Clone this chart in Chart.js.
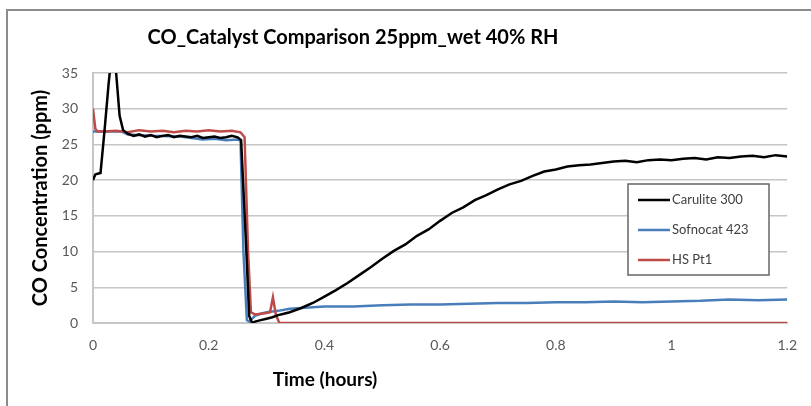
<!DOCTYPE html>
<html>
<head>
<meta charset="utf-8">
<script src="https://cdn.jsdelivr.net/npm/chart.js@4.4.1/dist/chart.umd.min.js"></script>
<style>
  html, body { margin: 0; padding: 0; background: #fff; }
  #wrap { width: 811px; height: 406px; position: relative; }
</style>
</head>
<body>
<div id="wrap"><canvas id="coChart" width="811" height="406"></canvas></div>
<script>
// Tiempo (horas) y concentracion CO (ppm)
const carTime = [0, 0.004, 0.008, 0.013, 0.02, 0.027, 0.034, 0.040, 0.046, 0.052, 0.06, 0.07, 0.08, 0.09, 0.10,
  0.11, 0.12, 0.13, 0.14, 0.15, 0.16, 0.17, 0.18, 0.19, 0.20, 0.21, 0.22, 0.23, 0.24, 0.25, 0.256, 0.264, 0.27, 0.275,
  0.28, 0.29, 0.30, 0.31, 0.32, 0.33, 0.34, 0.36, 0.38, 0.40, 0.42, 0.44, 0.46, 0.48, 0.50, 0.52, 0.54, 0.56, 0.58,
  0.60, 0.62, 0.64, 0.66, 0.68, 0.70, 0.72, 0.74, 0.76, 0.78, 0.80, 0.82, 0.84, 0.86, 0.88, 0.90, 0.92, 0.94, 0.96,
  0.98, 1.00, 1.02, 1.04, 1.06, 1.08, 1.10, 1.12, 1.14, 1.16, 1.18, 1.20];
const carValues = [20.0, 20.8, 20.9, 21.0, 27.0, 33.5, 39.0, 35.0, 29.0, 27.0, 26.5, 26.2, 26.4, 26.1, 26.3,
  26.0, 26.2, 26.3, 26.0, 26.2, 26.1, 26.0, 26.2, 25.9, 26.0, 26.1, 25.9, 26.0, 26.2, 26.0, 25.6, 12.0, 1.0, 0.0,
  0.2, 0.4, 0.6, 0.8, 1.1, 1.3, 1.5, 2.1, 2.8, 3.7, 4.6, 5.6, 6.7, 7.8, 9.0, 10.1, 11.0, 12.2, 13.1,
  14.3, 15.4, 16.2, 17.2, 17.9, 18.7, 19.4, 19.9, 20.6, 21.2, 21.5, 21.9, 22.1, 22.2, 22.4, 22.6, 22.7, 22.5, 22.8,
  22.9, 22.8, 23.0, 23.1, 22.9, 23.2, 23.1, 23.3, 23.4, 23.2, 23.5, 23.3];

const sofTime = [0, 0.05, 0.06, 0.10, 0.15, 0.19, 0.21, 0.23, 0.25, 0.255, 0.26, 0.266, 0.27, 0.28, 0.29, 0.30, 0.32,
  0.34, 0.36, 0.38, 0.40, 0.45, 0.50, 0.55, 0.60, 0.65, 0.70, 0.75, 0.80, 0.85, 0.90, 0.95, 1.00, 1.05, 1.10,
  1.15, 1.20];
const sofValues = [26.8, 26.8, 26.4, 26.2, 26.1, 25.7, 25.8, 25.6, 25.7, 25.5, 10.0, 0.4, 0.2, 1.0, 1.3, 1.5, 1.7,
  2.0, 2.1, 2.2, 2.3, 2.3, 2.5, 2.6, 2.6, 2.7, 2.8, 2.8, 2.9, 2.9, 3.0, 2.9, 3.0, 3.1, 3.3,
  3.2, 3.3];

const hsTime = [0, 0.004, 0.008, 0.02, 0.04, 0.06, 0.08, 0.10, 0.12, 0.14, 0.16, 0.18, 0.20, 0.22, 0.24, 0.255,
  0.262, 0.268, 0.273, 0.28, 0.29, 0.30, 0.306, 0.311, 0.316, 0.322, 0.40, 0.60, 0.80, 1.00, 1.20];
const hsValues = [30.0, 27.2, 26.8, 26.8, 26.9, 26.7, 27.0, 26.8, 26.9, 26.7, 26.9, 26.8, 27.0, 26.8, 26.9, 26.7,
  26.0, 10.0, 1.5, 1.2, 1.3, 1.4, 1.5, 3.6, 1.2, 0.0, 0.0, 0.0, 0.0, 0.0, 0.0];

const seriesNames = ['Carulite 300', 'Sofnocat 423', 'HS Pt1'];
const xTickLabels = ['0', '0.2', '0.4', '0.6', '0.8', '1', '1.2'];
const yTickLabels = ['0', '5', '10', '15', '20', '25', '30', '35'];

function toPoints(times, values) {
    return times.map((t, i) => ({ x: t, y: values[i] }));
}

const FONT = 'Lato, "Open Sans", sans-serif';
const GRID = '#c6c6c6';

// Marco, titulo, titulo del eje X y leyenda dibujados a mano (como en Excel)
const excelLook = {
    id: 'excelLook',
    beforeDraw(chart) {
        const ctx = chart.ctx;
        ctx.save();
        ctx.fillStyle = '#fff';
        ctx.fillRect(0, 0, chart.width, chart.height);
        ctx.strokeStyle = '#8c8c8c';
        ctx.lineWidth = 2;
        ctx.beginPath();
        ctx.moveTo(7, chart.height);
        ctx.lineTo(7, 10);
        ctx.lineTo(chart.width, 10);
        ctx.stroke();
        ctx.restore();
    },
    afterDraw(chart) {
        const ctx = chart.ctx;
        ctx.save();
        ctx.fillStyle = '#000';
        ctx.textAlign = 'center';
        ctx.textBaseline = 'middle';
        ctx.font = 'bold 20px ' + FONT;
        ctx.fillText('CO_Catalyst Comparison 25ppm_wet 40% RH', 353, 38);
        ctx.font = 'bold 19px ' + FONT;
        ctx.fillText('Time (hours)', 325, 380);

        // leyenda
        const bx = 628, by = 184, bw = 141, bh = 91;
        ctx.fillStyle = '#fff';
        ctx.fillRect(bx, by, bw, bh);
        ctx.strokeStyle = '#666';
        ctx.lineWidth = 1.5;
        ctx.strokeRect(bx, by, bw, bh);
        ctx.font = '13px ' + FONT;
        ctx.textAlign = 'left';
        chart.data.datasets.forEach((ds, i) => {
            const y = by + 16 + i * 30;
            ctx.strokeStyle = ds.borderColor;
            ctx.lineWidth = 2.5;
            ctx.beginPath();
            ctx.moveTo(bx + 10, y);
            ctx.lineTo(bx + 42, y);
            ctx.stroke();
            ctx.fillStyle = '#404040';
            ctx.fillText(ds.label, bx + 44, y);
        });
        ctx.restore();
    }
};

const ctx = document.getElementById('coChart').getContext('2d');
new Chart(ctx, {
    type: 'line',
    data: {
        datasets: [
            { label: seriesNames[0], data: toPoints(carTime, carValues), borderColor: '#000000', order: 1 },
            { label: seriesNames[1], data: toPoints(sofTime, sofValues), borderColor: '#4a7ebb', order: 3 },
            { label: seriesNames[2], data: toPoints(hsTime, hsValues), borderColor: '#be4b48', order: 2 }
        ]
    },
    options: {
        responsive: false,
        animation: false,
        events: [],
        elements: {
            point: { radius: 0 },
            line: { borderWidth: 2.5, tension: 0 }
        },
        layout: { padding: { left: 0, top: 73, right: 23, bottom: 0 } },
        plugins: {
            legend: { display: false },
            title: { display: false },
            tooltip: { enabled: false }
        },
        scales: {
            x: {
                type: 'linear',
                min: 0,
                max: 1.2,
                afterFit: s => { s.height = 83; },
                grid: { display: false, drawTicks: false },
                border: { display: true, color: GRID, width: 2 },
                ticks: {
                    stepSize: 0.2,
                    padding: 14,
                    color: '#595959',
                    font: { family: FONT, size: 14 },
                    callback: (v, i) => xTickLabels[i]
                }
            },
            y: {
                min: 0,
                max: 35,
                afterFit: s => { s.width = 93; },
                grid: { color: GRID, lineWidth: 1.5, drawTicks: false },
                border: { display: true, color: GRID, width: 2 },
                ticks: {
                    stepSize: 5,
                    padding: 15,
                    color: '#595959',
                    font: { family: FONT, size: 14 },
                    callback: (v, i) => yTickLabels[i]
                },
                title: {
                    display: true,
                    text: 'CO Concentration (ppm)',
                    color: '#000',
                    font: { family: FONT, size: 20, weight: 'bold' },
                    padding: { top: 29, bottom: 0 }
                }
            }
        }
    },
    plugins: [excelLook]
});
</script>
</body>
</html>
